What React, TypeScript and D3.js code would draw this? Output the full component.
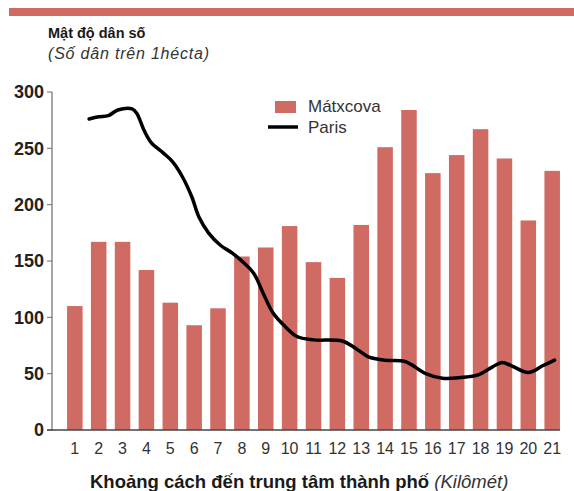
import * as d3 from "d3";

const categories = Array.from({ length: 21 }, (_, i) => String(i + 1));
const moscow = [110, 167, 167, 142, 113, 93, 108, 154, 162, 181, 149, 135, 182, 251, 284, 228, 244, 267, 241, 186, 230];

// Paris density: distance (km) and value
const parisKm = [1.6, 2.0, 2.4, 2.8, 3.4, 3.6, 3.9, 4.2, 4.7, 5.1, 5.5, 5.9, 6.2, 6.6, 7.1, 7.6, 8.1, 8.5, 8.9, 9.3, 9.8, 10.3, 11.0, 12.2, 12.8, 13.3, 14.0, 14.8, 15.1, 15.7, 16.4, 17.4, 17.9, 18.5, 18.9, 19.3, 20.0, 20.6, 21.1];
const parisVal = [276, 278, 279, 284, 285, 281, 266, 255, 246, 238, 225, 207, 189, 175, 164, 157, 148, 139, 121, 104, 92, 83, 80, 79, 72, 65, 62, 61, 58, 50, 46, 47, 49, 56, 60, 57, 51, 57, 62];

const yTicks = [0, 50, 100, 150, 200, 250, 300];

const W = 574;
const H = 491;
const RED = "#cf6b63";
const FONT = "'Liberation Sans', Arial, sans-serif";

export default function App() {
  const x = d3.scaleBand().domain(categories).range([63, 564]).paddingInner(0.35).paddingOuter(0.17);
  const y = d3.scaleLinear().domain([0, 300]).range([430, 92]);
  const c1 = (x("1") ?? 0) + x.bandwidth() / 2;
  const c21 = (x("21") ?? 0) + x.bandwidth() / 2;
  const xKm = d3.scaleLinear().domain([1, 21]).range([c1, c21]);

  const line = d3
    .line<number>()
    .x((_, i) => xKm(parisKm[i]))
    .y((d) => y(d))
    .curve(d3.curveCatmullRom);

  return (
    <svg width={W} height={H} style={{ position: "fixed", left: 0, top: 0, background: "#fff" }} fontFamily={FONT}>
      <rect x={9} y={8} width={W - 9} height={8} fill={RED} />
      <text x={48} y={38} fontSize={14.5} fontWeight="bold" fill="#1a1a1a">Mật độ dân số</text>
      <text x={48} y={59} fontSize={16} fontStyle="italic" fill="#333" letterSpacing={0.8}>(Số dân trên 1hécta)</text>

      {moscow.map((v, i) => (
        <rect key={i} x={x(categories[i])} y={y(v)} width={x.bandwidth()} height={y(0) - y(v)} fill={RED} />
      ))}

      <path d={line(parisVal) ?? ""} fill="none" stroke="#000" strokeWidth={3.5} strokeLinejoin="round" strokeLinecap="round" />

      {/* y axis */}
      <line x1={52} x2={52} y1={y(300)} y2={y(0)} stroke="#6a6a78" strokeWidth={1.2} />
      {yTicks.map((t) => (
        <g key={t}>
          <line x1={47} x2={52} y1={y(t)} y2={y(t)} stroke="#6a6a78" strokeWidth={1} />
          <text x={44} y={y(t)} dy="0.36em" textAnchor="end" fontSize={18} fontWeight="bold" fill="#222">{t}</text>
        </g>
      ))}

      {/* x axis */}
      <line x1={47} x2={560} y1={y(0)} y2={y(0)} stroke="#444" strokeWidth={1.5} />
      {categories.map((c) => (
        <text key={c} x={(x(c) ?? 0) + x.bandwidth() / 2} y={454} textAnchor="middle" fontSize={16} fill="#333">{c}</text>
      ))}
      <text x={90} y={488} fontSize={18.5} fill="#1a1a1a">
        <tspan fontWeight="bold">Khoảng cách đến trung tâm thành phố</tspan>
        <tspan fontStyle="italic" fill="#333"> (Kilômét)</tspan>
      </text>

      {/* legend */}
      <rect x={275} y={101} width={21} height={12} fill={RED} />
      <text x={308} y={106} dy="0.36em" fontSize={17} fill="#333">Mátxcova</text>
      <line x1={268} x2={298} y1={127} y2={127} stroke="#000" strokeWidth={3.5} />
      <text x={308} y={127} dy="0.36em" fontSize={17} fill="#333">Paris</text>
    </svg>
  );
}
